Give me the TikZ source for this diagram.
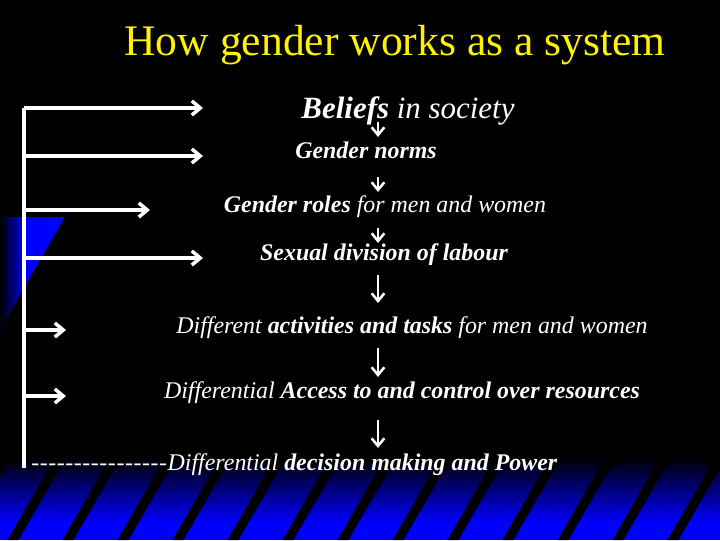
\documentclass[tikz,border=0pt]{standalone}
\usepackage{fontspec}
\setmainfont{Liberation Serif}
\usetikzlibrary{arrows.meta}

\definecolor{stripeblue}{RGB}{0,0,255}
\newcommand\dashrun{\foreach \i in {1,...,16}{\mbox{-}\kern0.4pt}}

\tikzset{
	row/.style={anchor=base, text=white, inner sep=0pt, font=\fontsize{17}{20}\selectfont\itshape},
	feed/.style={white, line width=2.5pt, -{Straight Barb[length=6pt,width=10pt]}},
	down/.style={white, line width=1.8pt, -{Straight Barb[length=5.5pt,width=9pt]}},
}

\begin{document}
\begin{tikzpicture}[x=0.025cm, y=-0.025cm]
	\useasboundingbox (0,0) rectangle (720,540);
	\fill[black] (0,0) rectangle (720,540);
	% blue stripes
	\begin{scope}
		\clip (0,217) -- (65,217) -- (0,329) -- cycle;
		\fill[stripeblue] (0,217) rectangle (65,329);
		\shade[left color=black, right color=stripeblue] (0,217) rectangle (26,329);
	\end{scope}
	\fill[stripeblue] (0,522) rectangle (720,540);
	\shade[top color=black, bottom color=stripeblue] (0,458) rectangle (720,523);
	\foreach \k in {-1,...,13}
		\fill[black] (13+55*\k-5.5,540) -- ++(11,0) -- ++(49,-85) -- ++(-11,0) -- cycle;
	% title and rows
	\node[anchor=base, text=yellow, font=\fontsize{31}{36}\selectfont] (title) at (395,55) {How gender works as a system};
	\node[row, font=\fontsize{22}{26}\selectfont\itshape] (beliefs) at (408,118) {\textbf{Beliefs} in society};
	\node[row] (norms) at (366,158) {\textbf{Gender norms}};
	\node[row] (roles) at (385,212) {\textbf{Gender roles} for men and women};
	\node[row] (labour) at (384,260) {\textbf{Sexual division of labour}};
	\node[row] (tasks) at (412,333) {Different \textbf{activities and tasks} for men and women};
	\node[row] (access) at (402,398) {Differential \textbf{Access to and control over resources}};
	\node[row, anchor=base west] (power) at (31,470) {\dashrun Differential \textbf{decision making and Power}};
	% left feedback arrows
	\coordinate (spinetop) at (24,108);
	\coordinate (spinebot) at (24,468);
	\draw[white, line width=2.5pt] (spinetop) -- (spinebot);
	\foreach \y/\x in {108/203, 156/203, 210/150, 258/203, 330/66, 396/66}
		\draw[feed] (spinetop |- 0,\y) -- (\x,\y);
	% chain down the middle
	\coordinate (axis) at (378,0);
	\foreach \s/\t/\a/\b in {beliefs/norms/4/21, norms/roles/19/20, roles/labour/16/17, labour/tasks/15/30, tasks/access/15/21, access/power/22/22}
		\draw[down, shorten <=\a*0.025cm, shorten >=\b*0.025cm] (axis |- \s.base) -- (axis |- \t.base);
\end{tikzpicture}
\end{document}
